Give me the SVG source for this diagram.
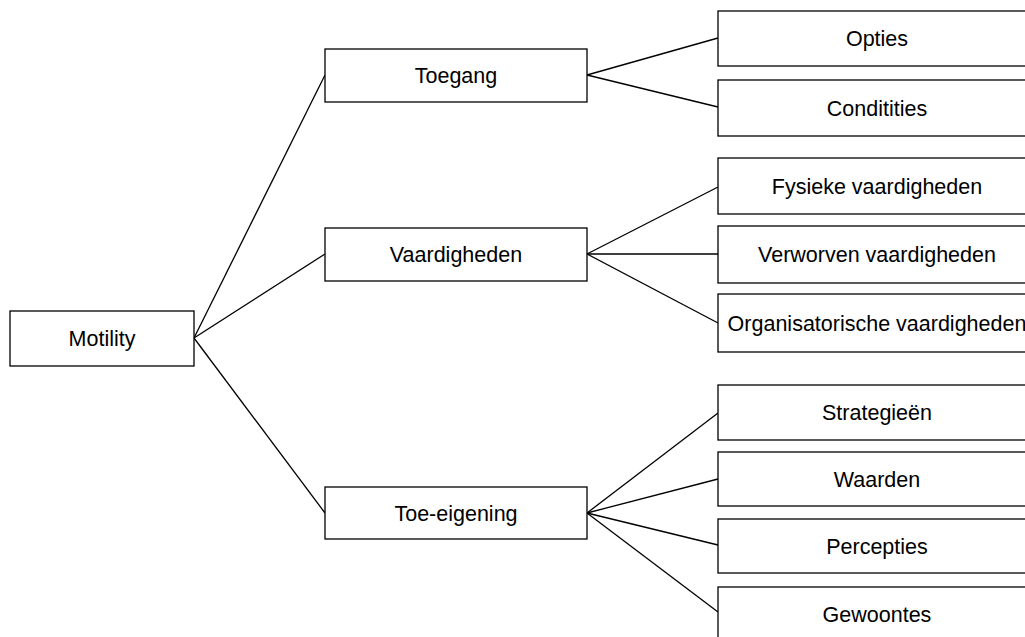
<svg xmlns="http://www.w3.org/2000/svg" width="1025" height="637" viewBox="0 0 1025 637">
<style>
.box{fill:#fff;stroke:#000;stroke-width:1.3}
.lbl{font-family:"Liberation Sans",Arial,sans-serif;font-size:21.5px;fill:#000;text-anchor:middle}
.con line{stroke:#000;stroke-width:1.3}
</style>
<rect width="1025" height="637" fill="#fff"/>
<g class="con" id="connectors">
<line x1="194" y1="338" x2="325" y2="75"/>
<line x1="194" y1="338" x2="325" y2="254"/>
<line x1="194" y1="338" x2="325" y2="513"/>
<line x1="587" y1="75" x2="718" y2="38"/>
<line x1="587" y1="75" x2="718" y2="107"/>
<line x1="587" y1="254" x2="718" y2="187"/>
<line x1="587" y1="254" x2="718" y2="254"/>
<line x1="587" y1="254" x2="718" y2="323"/>
<line x1="587" y1="513" x2="718" y2="413"/>
<line x1="587" y1="513" x2="718" y2="479"/>
<line x1="587" y1="513" x2="718" y2="545"/>
<line x1="587" y1="513" x2="718" y2="612"/>
</g>
<g id="motility"><rect class="box" x="10" y="311" width="184" height="55"/><text class="lbl" x="102" y="346">Motility</text></g>
<g id="toegang"><rect class="box" x="325" y="49" width="262" height="53"/><text class="lbl" x="456" y="83">Toegang</text></g>
<g id="vaardigheden"><rect class="box" x="325" y="228" width="262" height="53"/><text class="lbl" x="456" y="262">Vaardigheden</text></g>
<g id="toe-eigening"><rect class="box" x="325" y="487" width="262" height="52"/><text class="lbl" x="456" y="521">Toe-eigening</text></g>
<g id="opties"><rect class="box" x="718" y="11" width="322" height="55"/><text class="lbl" x="877" y="46">Opties</text></g>
<g id="conditities"><rect class="box" x="718" y="80" width="322" height="56"/><text class="lbl" x="877" y="116">Conditities</text></g>
<g id="fysieke"><rect class="box" x="718" y="158" width="322" height="56"/><text class="lbl" x="877" y="194">Fysieke vaardigheden</text></g>
<g id="verworven"><rect class="box" x="718" y="226" width="322" height="57"/><text class="lbl" x="877" y="262">Verworven vaardigheden</text></g>
<g id="organisatorische"><rect class="box" x="718" y="294" width="322" height="58"/><text class="lbl" x="877" y="331">Organisatorische vaardigheden</text></g>
<g id="strategieen"><rect class="box" x="718" y="385" width="322" height="55"/><text class="lbl" x="877" y="420">Strategieën</text></g>
<g id="waarden"><rect class="box" x="718" y="452" width="322" height="54"/><text class="lbl" x="877" y="487">Waarden</text></g>
<g id="percepties"><rect class="box" x="718" y="519" width="322" height="54"/><text class="lbl" x="877" y="554">Percepties</text></g>
<g id="gewoontes"><rect class="box" x="718" y="587" width="322" height="60"/><text class="lbl" x="877" y="622">Gewoontes</text></g>
</svg>
